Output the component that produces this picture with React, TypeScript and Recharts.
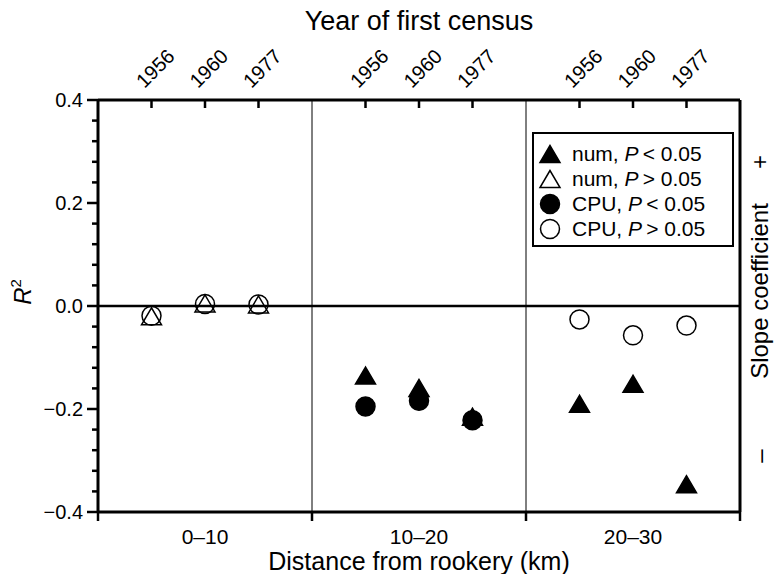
import React from "react";
import { ScatterChart, Scatter, XAxis, YAxis, ReferenceLine, Label } from "recharts";

const FONT = '"Liberation Sans", Arial, Helvetica, sans-serif';

// categories
const distanceBands = ["0–10", "10–20", "20–30"];
const censusYears = ["1956", "1960", "1977"];

// R² (signed by slope)
const numSig = [
  { band: "10–20", year: "1956", r2: -0.135 },
  { band: "10–20", year: "1960", r2: -0.159 },
  { band: "10–20", year: "1977", r2: -0.215 },
  { band: "20–30", year: "1956", r2: -0.19 },
  { band: "20–30", year: "1960", r2: -0.151 },
  { band: "20–30", year: "1977", r2: -0.346 },
];
const numNS = [
  { band: "0–10", year: "1956", r2: -0.02 },
  { band: "0–10", year: "1960", r2: 0.005 },
  { band: "0–10", year: "1977", r2: 0.003 },
];
const cpuSig = [
  { band: "10–20", year: "1956", r2: -0.195 },
  { band: "10–20", year: "1960", r2: -0.184 },
  { band: "10–20", year: "1977", r2: -0.222 },
];
const cpuNS = [
  { band: "0–10", year: "1956", r2: -0.019 },
  { band: "0–10", year: "1960", r2: 0.004 },
  { band: "0–10", year: "1977", r2: 0.003 },
  { band: "20–30", year: "1956", r2: -0.026 },
  { band: "20–30", year: "1960", r2: -0.057 },
  { band: "20–30", year: "1977", r2: -0.038 },
];

const yMajor = [-0.4, -0.2, 0, 0.2, 0.4];
const yTicks = Array.from({ length: 21 }, (_, i) => Math.round((-0.4 + i * 0.04) * 100) / 100);

// each band takes 4 units on the x scale, years sit at 1,2,3 inside it
const toXY = (rows: { band: string; year: string; r2: number }[]) =>
  rows.map((r) => ({
    x: distanceBands.indexOf(r.band) * 4 + censusYears.indexOf(r.year) + 1,
    y: r.r2,
  }));

const yearTicks = distanceBands.flatMap((_, b) => censusYears.map((__, i) => b * 4 + i + 1));
const bottomTicks = [0, 2, 4, 6, 8, 10, 12];

const YTick = (props: any) => {
  const { x, y, payload } = props;
  const v = payload.value;
  const major = yMajor.some((m) => Math.abs(m - v) < 1e-6);
  const txt = Math.abs(v) < 1e-6 ? "0.0" : v.toFixed(1).replace("-", "−");
  return (
    <g>
      <line x1={x - (major ? 11 : 6)} x2={x} y1={y} y2={y} stroke="#000" strokeWidth={2.5} />
      {major && (
        <text x={x - 15} y={y} dy="0.36em" textAnchor="end" fontSize={20} fontFamily={FONT} fill="#000">
          {txt}
        </text>
      )}
    </g>
  );
};

const TopTick = (props: any) => {
  const { x, y, payload } = props;
  const year = censusYears[(payload.value % 4) - 1];
  const tx = x - 7;
  const ty = y - 11;
  return (
    <g>
      <line x1={x} x2={x} y1={y} y2={y + 8} stroke="#000" strokeWidth={2.5} />
      <text x={tx} y={ty} transform={`rotate(-45, ${tx}, ${ty})`} fontSize={20} fontFamily={FONT} fill="#000">
        {year}
      </text>
    </g>
  );
};

const BottomTick = (props: any) => {
  const { x, y, payload } = props;
  const v = payload.value;
  if (v % 4 === 0) {
    return <line x1={x} x2={x} y1={y} y2={y + 9} stroke="#000" strokeWidth={2.5} />;
  }
  return (
    <text x={x} y={y + 32} textAnchor="middle" fontSize={21} fontFamily={FONT} fill="#000">
      {distanceBands[(v - 2) / 4]}
    </text>
  );
};

const triangle = (filled: boolean) => (props: any) => {
  const { cx, cy } = props;
  const w = 20;
  const h = 17;
  return (
    <polygon
      points={`${cx},${cy - h / 2} ${cx - w / 2},${cy + h / 2} ${cx + w / 2},${cy + h / 2}`}
      fill={filled ? "#000" : "none"}
      stroke="#000"
      strokeWidth={1.5}
    />
  );
};

const circle = (filled: boolean) => (props: any) => {
  const { cx, cy } = props;
  return <circle cx={cx} cy={cy} r={9.5} fill={filled ? "#000" : "none"} stroke="#000" strokeWidth={1.5} />;
};

const TopTitle = (props: any) => {
  const { x, width } = props.viewBox;
  return (
    <text x={x + width / 2} y={30} textAnchor="middle" fontSize={27} fontFamily={FONT} fill="#000">
      Year of first census
    </text>
  );
};

const BottomTitle = (props: any) => {
  const { x, y, width } = props.viewBox;
  return (
    <text x={x + width / 2} y={y + 58} textAnchor="middle" fontSize={25} fontFamily={FONT} fill="#000">
      Distance from rookery (km)
    </text>
  );
};

const LeftTitle = (props: any) => {
  const { y, height } = props.viewBox;
  const cx = 31;
  const cy = y + height / 2 - 14;
  return (
    <text x={cx} y={cy} transform={`rotate(-90, ${cx}, ${cy})`} textAnchor="middle" fontSize={24} fontFamily={FONT} fill="#000">
      <tspan fontStyle="italic">R</tspan>
      <tspan fontSize={15} dy={-10}>2</tspan>
    </text>
  );
};

const RightTitle = (props: any) => {
  const { y, height } = props.viewBox;
  const bx = 768;
  const mid = y + height / 2 - 15;
  const rot = (cy: number) => `rotate(-90, ${bx}, ${cy})`;
  return (
    <g fontFamily={FONT} fontSize={24} fill="#000">
      <text x={bx} y={mid} transform={rot(mid)} textAnchor="middle">
        Slope coefficient
      </text>
      <text x={bx} y={162} transform={rot(162)} textAnchor="middle">
        +
      </text>
      <text x={bx} y={456} transform={rot(456)} textAnchor="middle">
        –
      </text>
    </g>
  );
};

const legendItems = [
  { shape: "tri", filled: true, label: "num", sign: "<" },
  { shape: "tri", filled: false, label: "num", sign: ">" },
  { shape: "cir", filled: true, label: "CPU", sign: "<" },
  { shape: "cir", filled: false, label: "CPU", sign: ">" },
];

const LegendBox = () => (
  <div
    style={{
      position: "absolute",
      left: 532,
      top: 132,
      width: 202,
      height: 115,
      border: "2px solid #000",
      boxSizing: "border-box",
      background: "#fff",
      paddingTop: 7,
      fontFamily: FONT,
      fontSize: 21,
      color: "#000",
    }}
  >
    {legendItems.map((it, i) => (
      <div key={i} style={{ display: "flex", alignItems: "center", height: 25 }}>
        <svg width={24} height={24} style={{ marginLeft: 4, marginRight: 10 }}>
          {it.shape === "tri" ? (
            <polygon
              points="12,3.5 2,20.5 22,20.5"
              fill={it.filled ? "#000" : "none"}
              stroke="#000"
              strokeWidth={1.5}
            />
          ) : (
            <circle cx={12} cy={12} r={9.5} fill={it.filled ? "#000" : "none"} stroke="#000" strokeWidth={1.5} />
          )}
        </svg>
        <span style={{ whiteSpace: "nowrap" }}>
          {it.label}, <i>P</i>
          {"\u2009" + it.sign + " 0.05"}
        </span>
      </div>
    ))}
  </div>
);

export default function App() {
  return (
    <div style={{ position: "absolute", left: 0, top: 0, width: 774, height: 574, background: "#fff" }}>
      <ScatterChart width={774} height={574} margin={{ top: 0, right: 0, bottom: 0, left: 0 }}>
        <XAxis
          xAxisId="bottom"
          dataKey="x"
          type="number"
          domain={[0, 12]}
          allowDataOverflow
          ticks={bottomTicks}
          interval={0}
          height={62}
          tickSize={0}
          tickMargin={0}
          tick={<BottomTick />}
          axisLine={{ stroke: "#000", strokeWidth: 3 }}
        >
          <Label content={<BottomTitle />} />
        </XAxis>
        <XAxis
          xAxisId="top"
          orientation="top"
          dataKey="x"
          type="number"
          domain={[0, 12]}
          allowDataOverflow
          ticks={yearTicks}
          interval={0}
          height={100}
          tickSize={0}
          tickMargin={0}
          tick={<TopTick />}
          axisLine={{ stroke: "#000", strokeWidth: 3 }}
        >
          <Label content={<TopTitle />} />
        </XAxis>
        <YAxis
          yAxisId="left"
          dataKey="y"
          type="number"
          domain={[-0.4, 0.4]}
          allowDataOverflow
          ticks={yTicks}
          interval={0}
          width={98}
          tickSize={0}
          tickMargin={0}
          tick={<YTick />}
          axisLine={{ stroke: "#000", strokeWidth: 3 }}
        >
          <Label content={<LeftTitle />} />
        </YAxis>
        <YAxis
          yAxisId="right"
          orientation="right"
          dataKey="y"
          type="number"
          domain={[-0.4, 0.4]}
          allowDataOverflow
          width={34}
          tick={false}
          tickLine={false}
          axisLine={{ stroke: "#000", strokeWidth: 3 }}
        >
          <Label content={<RightTitle />} />
        </YAxis>

        <ReferenceLine xAxisId="bottom" yAxisId="left" x={4} stroke="#000" strokeWidth={1} />
        <ReferenceLine xAxisId="bottom" yAxisId="left" x={8} stroke="#000" strokeWidth={1} />
        <ReferenceLine xAxisId="bottom" yAxisId="left" y={0} stroke="#000" strokeWidth={2.5} />

        <Scatter xAxisId="bottom" yAxisId="left" name="CPU, P > 0.05" data={toXY(cpuNS)} shape={circle(false)} isAnimationActive={false} />
        <Scatter xAxisId="bottom" yAxisId="left" name="num, P > 0.05" data={toXY(numNS)} shape={triangle(false)} isAnimationActive={false} />
        <Scatter xAxisId="bottom" yAxisId="left" name="CPU, P < 0.05" data={toXY(cpuSig)} shape={circle(true)} isAnimationActive={false} />
        <Scatter xAxisId="bottom" yAxisId="left" name="num, P < 0.05" data={toXY(numSig)} shape={triangle(true)} isAnimationActive={false} />
      </ScatterChart>
      <LegendBox />
    </div>
  );
}
